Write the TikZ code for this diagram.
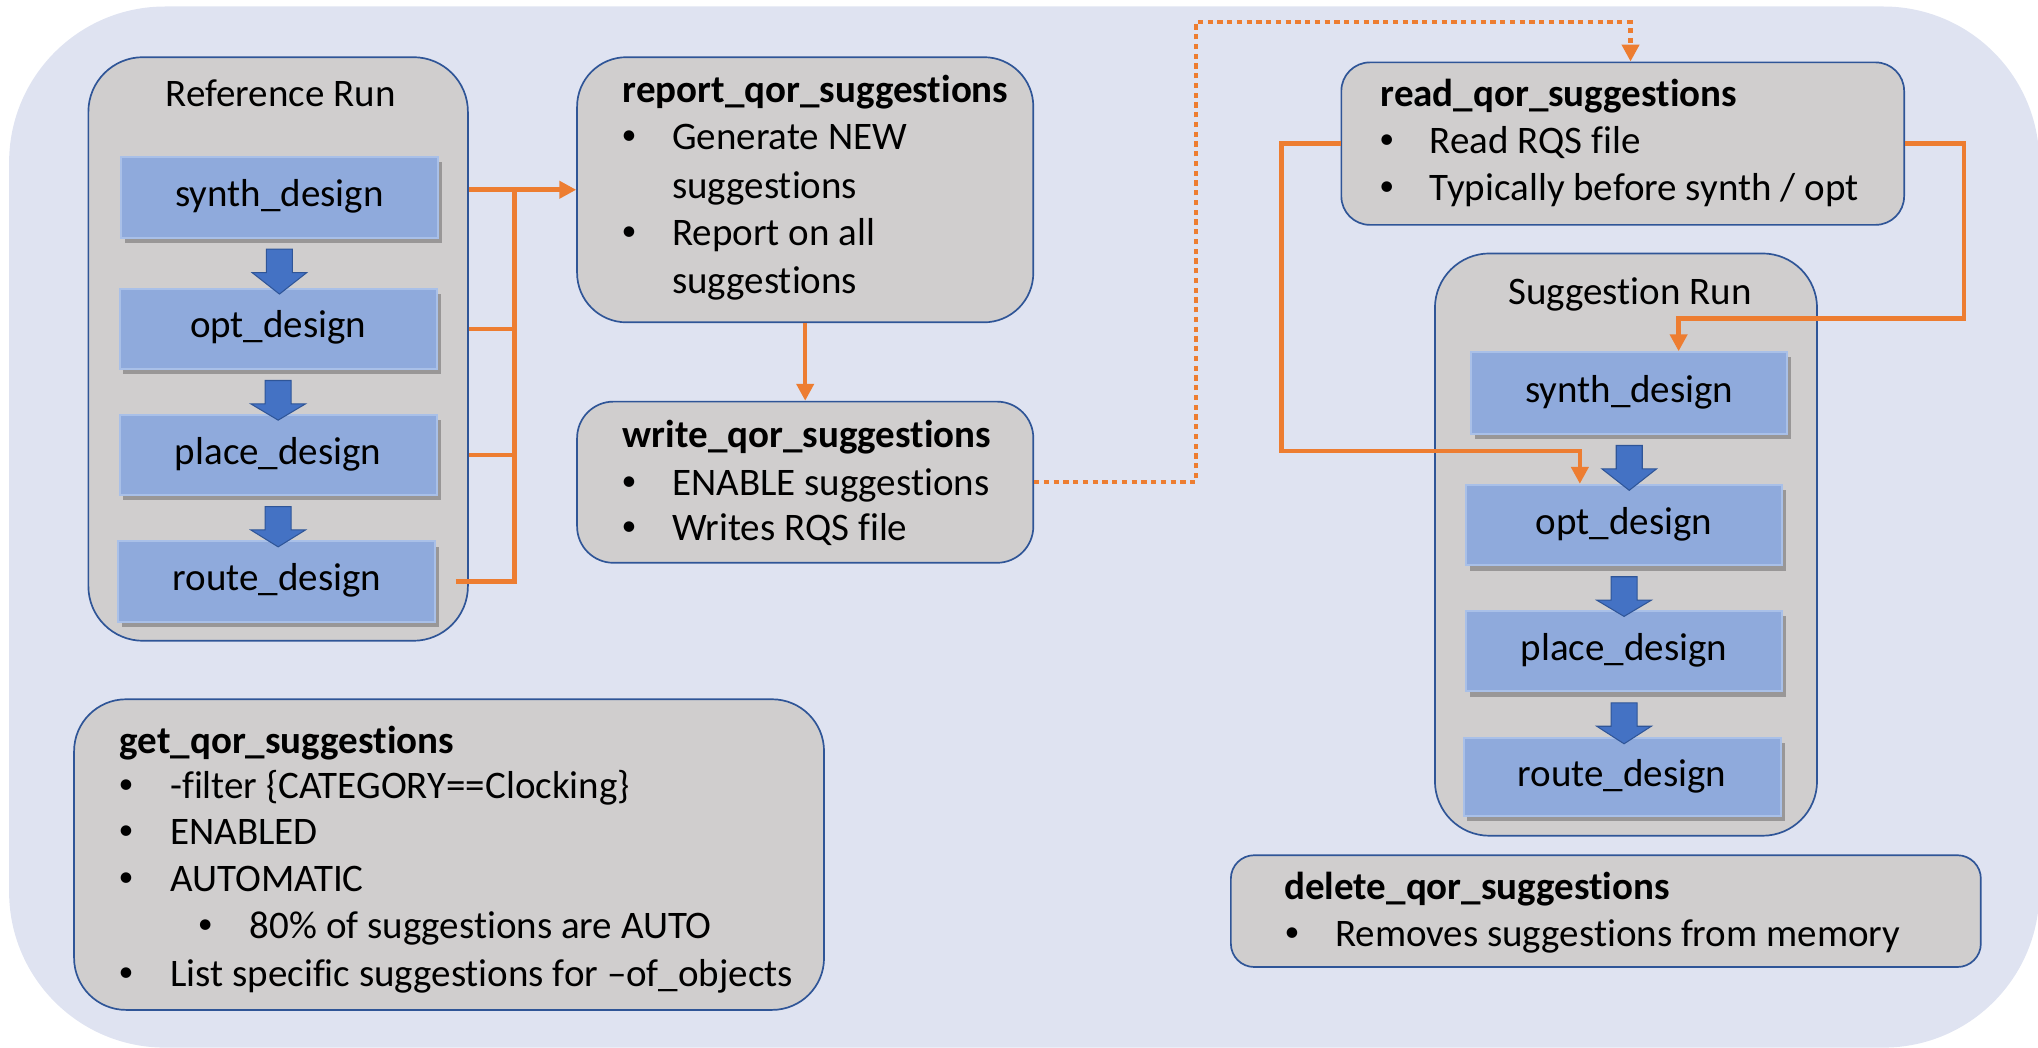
\documentclass[tikz,border=0pt]{standalone}
\usepackage{fontspec}
\setmainfont{Carlito}[Ligatures=NoCommon,RawFeature={-liga;-dlig;-clig}]
\usetikzlibrary{calc,arrows.meta,shadows}
\definecolor{bgc}{HTML}{DFE3F1}
\definecolor{grayfill}{HTML}{D0CECE}
\definecolor{grayborder}{HTML}{2F5597}
\definecolor{bluefill}{HTML}{8FAADC}
\definecolor{blueborder}{HTML}{A9C0E8}
\definecolor{arrowblue}{HTML}{4472C4}
\definecolor{arrowedge}{HTML}{2F5597}
\definecolor{orangec}{HTML}{ED7D31}
\newcommand\diafont{\fontsize{30bp}{36bp}\selectfont}
\newcommand\bulfont{\fontsize{23bp}{28bp}\selectfont}
\newcommand\fatdown[2]{%
  \filldraw[fat] ($(#1.south)+(-10,8)$) -- ($(#1.south)+(10,8)$) -- ($(#1.south)+(10,26)$)
    -- ($(#1.south)+(21,26)$) -- ($(#1.south |- #2.north)+(0,5)$) -- ($(#1.south)+(-21,26)$)
    -- ($(#1.south)+(-10,26)$) -- cycle;}
\begin{document}
\begin{tikzpicture}[x=1bp,y=-1bp,
  graybox/.style={draw=grayborder, fill=grayfill, line width=1.3bp, inner sep=0},
  bluebox/.style={draw=blueborder, fill=bluefill, line width=1.5bp, minimum width=244bp,
    minimum height=62bp, inner sep=0, font=\diafont, text height=21bp, text depth=7bp,
    drop shadow={shadow xshift=3bp, shadow yshift=-4bp, opacity=0.35, fill=black!80}},
  txt/.style={anchor=west, inner sep=0, font=\diafont, text height=21bp, text depth=7bp, yshift=-2bp},
  ttl/.style={txt, font=\diafont\bfseries},
  ctr/.style={anchor=center, inner sep=0, font=\diafont, text height=21bp, text depth=7bp, yshift=-2bp},
  bul/.style={anchor=center, inner sep=0, font=\bulfont},
  oline/.style={draw=orangec, line width=3.5bp},
  oarrow/.style={oline, -{Triangle[width=13bp,length=13bp]}},
  odot/.style={draw=orangec, line width=3.5bp, dash pattern=on 4bp off 3.5bp,
    -{Triangle[width=13bp,length=13bp]}},
  fat/.style={fill=arrowblue, draw=arrowedge, line width=0.8bp},
]
\useasboundingbox (0,0) rectangle (1568,806);
% background
\fill[bgc, rounded corners=120bp] (7,5) rectangle (1569,806);

% containers
\node[graybox, rounded corners=42bp, minimum width=292bp, minimum height=449bp] (ref) at (214,268.5) {};
\node[graybox, rounded corners=42bp, minimum width=294bp, minimum height=448bp] (sug) at (1251,419) {};

% gray boxes
\node[graybox, rounded corners=38bp, minimum width=351bp, minimum height=204bp] (rep) at (619.5,146) {};
\node[graybox, rounded corners=28bp, minimum width=351bp, minimum height=124bp] (wr) at (619.5,371) {};
\node[graybox, rounded corners=22bp, minimum width=433bp, minimum height=125bp] (rd) at (1248.5,110.5) {};
\node[graybox, rounded corners=40bp, minimum width=577bp, minimum height=239bp] (get) at (345.5,657.5) {};
\node[graybox, rounded corners=18bp, minimum width=577bp, minimum height=86bp] (del) at (1235.5,701) {};

% blue boxes, reference run
\node[bluebox] (rs) at (215,152) {synth\_design};
\node[bluebox] (ro) at (214,253) {opt\_design};
\node[bluebox] (rp) at (214,350) {place\_design};
\node[bluebox] (rr) at (213,447.5) {route\_design};
% blue boxes, suggestion run
\node[bluebox, minimum width=243bp, minimum height=63bp] (ss) at (1253.5,302.5) {synth\_design};
\node[bluebox, minimum width=243bp] (so) at (1249.5,404) {opt\_design};
\node[bluebox, minimum width=243bp] (sp) at (1249.5,501) {place\_design};
\node[bluebox, minimum width=244bp, minimum height=60bp] (sr) at (1248,598) {route\_design};

% container titles
\node[ctr] (reft) at (216,73) {Reference Run};
\node[ctr] (sugt) at (1254,225) {Suggestion Run};

% blue fat arrows
\fatdown{rs}{ro}
\fatdown{ro}{rp}
\fatdown{rp}{rr}
\fatdown{ss}{so}
\fatdown{so}{sp}
\fatdown{sp}{sr}

% orange connectors
\coordinate (bus) at (396,0);
\draw[oarrow] (ref.east |- rep.west) -- (rep.west);
\draw[oline] ([xshift=-10bp]ref.east |- rr.center) -- (bus |- rr.center) -- (bus |- rep.west);
\draw[oline] (ref.east |- ro.center) -- (bus |- ro.center);
\draw[oline] (ref.east |- rp.center) -- (bus |- rp.center);
\draw[oarrow] (rep.south) -- (wr.north);
\coordinate (d1) at (920,17);
\draw[odot] (wr.east) -| (d1) -| ([xshift=6bp]rd.north);
\coordinate (l1) at (986,347);
\draw[oarrow] (rd.west) -| (l1) -| ([xshift=-34bp]so.north);
\coordinate (r1) at (1511,245);
\draw[oarrow] (rd.east) -| (r1) -| ([xshift=38bp]ss.north);

% report text
\node[ttl] (t1) at (479,70) {report\_qor\_suggestions};
\node[bul] (b1) at (484,106) {•};
\node[txt] (t2) at (517,106) {Generate NEW};
\node[txt] (t3) at (517,144) {suggestions};
\node[bul] (b2) at (484,180) {•};
\node[txt] (t4) at (517,180) {Report on all};
\node[txt] (t5) at (517,217) {suggestions};
% write text
\node[ttl] (t6) at (479,335) {write\_qor\_suggestions};
\node[bul] (b3) at (484,372) {•};
\node[txt] (t7) at (517,372) {ENABLE suggestions};
\node[bul] (b4) at (484,407) {•};
\node[txt] (t8) at (517,407) {Writes RQS file};
% read text
\node[ttl] (t9) at (1062,73) {read\_qor\_suggestions};
\node[bul] (b5) at (1067,109) {•};
\node[txt] (t10) at (1100,109) {Read RQS file};
\node[bul] (b6) at (1067,145) {•};
\node[txt] (t11) at (1100,145) {Typically before synth / opt};
% get text
\node[ttl] (t12) at (92,571) {get\_qor\_suggestions};
\node[bul] (b7) at (97,605) {•};
\node[txt] (t13) at (131,605) {-filter \{CATEGORY==Clocking\}};
\node[bul] (b8) at (97,641) {•};
\node[txt] (t14) at (131,641) {ENABLED};
\node[bul] (b9) at (97,677) {•};
\node[txt] (t15) at (131,677) {AUTOMATIC};
\node[bul] (b10) at (158,713) {•};
\node[txt] (t16) at (192,713) {80\% of suggestions are AUTO};
\node[bul] (b11) at (97,750) {•};
\node[txt] (t17) at (131,750) {List specific suggestions for –of\_objects};
% delete text
\node[ttl] (t18) at (988,683) {delete\_qor\_suggestions};
\node[bul] (b12) at (994,719) {•};
\node[txt] (t19) at (1027,719) {Removes suggestions from memory};
\end{tikzpicture}
\end{document}
